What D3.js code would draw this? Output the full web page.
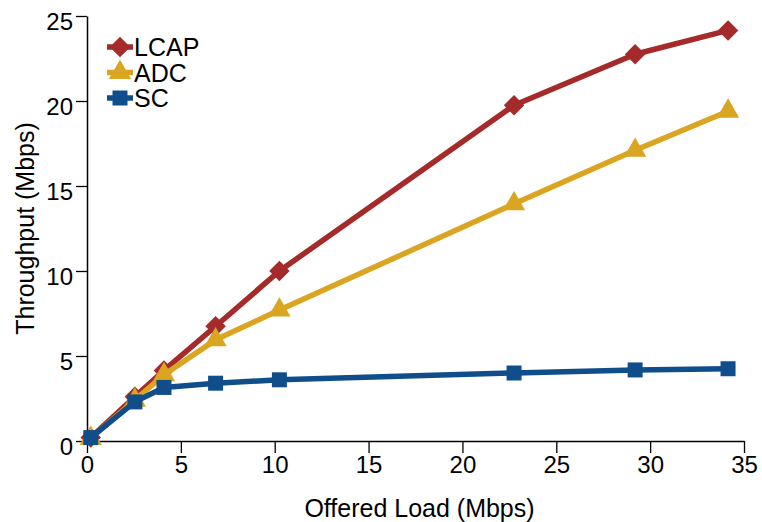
<!DOCTYPE html>
<html lang="en">
<head>
<meta charset="utf-8">
<title>Throughput vs Offered Load</title>
<script src="https://d3js.org/d3.v7.min.js"></script>
<style>
  body { margin: 0; background: #fff; }
  svg text { font-family: "Liberation Sans", Arial, Helvetica, sans-serif; fill: #000; }
</style>
</head>
<body>
<div id="chart"></div>
<script>
// data
var offeredLoad = [0.2, 2.55, 4.1, 6.85, 10.25, 22.75, 29.2, 34.15];
var lcap = [0.2, 2.6, 4.15, 6.75, 10.0, 19.75, 22.75, 24.15];
var adc  = [0.15, 2.4, 3.9, 5.95, 7.7, 13.95, 17.1, 19.4];
var sc   = [0.2, 2.3, 3.15, 3.4, 3.6, 4.0, 4.18, 4.25];
var seriesNames = ["LCAP", "ADC", "SC"];
var xTicks = [0, 5, 10, 15, 20, 25, 30, 35];
var yTicks = [0, 5, 10, 15, 20, 25];

var colors = { LCAP: "#a52a2a", ADC: "#daa520", SC: "#104e8b" };
var shapes = { LCAP: "diamond", ADC: "triangle", SC: "square" };
var values = { LCAP: lcap, ADC: adc, SC: sc };

var margin = {top: 16, right: 18, bottom: 81, left: 87},
    width = 762 - margin.left - margin.right,
    height = 522 - margin.top - margin.bottom;

var svg = d3.select("#chart")
  .append("svg")
    .attr("width", 762)
    .attr("height", 522)
  .append("g")
    .attr("transform", "translate(" + margin.left + "," + margin.top + ")");

var x = d3.scaleLinear().domain([0, 35]).range([0, width]);
var y = d3.scaleLinear().domain([0, 25]).range([height, 0]);

// axes
var xAxis = svg.append("g")
    .attr("transform", "translate(0," + height + ")")
    .call(d3.axisBottom(x).tickValues(xTicks).tickSize(12).tickPadding(3).tickSizeOuter(0));
var yAxis = svg.append("g")
    .call(d3.axisLeft(y).tickValues(yTicks).tickSize(11).tickPadding(3).tickSizeOuter(0));

[xAxis, yAxis].forEach(function(a) {
  a.select(".domain").attr("stroke-width", 1.5);
  a.selectAll(".tick line").attr("stroke-width", 1.3);
  a.selectAll(".tick text").style("font-size", "24px");
});
yAxis.selectAll(".tick text").attr("dy", "0.55em");

// axis titles
svg.append("text")
    .attr("x", width / 2 + 4)
    .attr("y", height + 76)
    .attr("text-anchor", "middle")
    .style("font-size", "25px")
    .text("Offered Load (Mbps)");
svg.append("text")
    .attr("transform", "translate(" + (-53) + "," + (height / 2) + ") rotate(-90)")
    .attr("text-anchor", "middle")
    .style("font-size", "25px")
    .text("Throughput (Mbps)");

// marker helper
function markerPath(kind) {
  if (kind === "diamond") return d3.symbol().type(d3.symbolSquare).size(210)();
  if (kind === "triangle") return d3.symbol().type(d3.symbolTriangle).size(215)();
  return d3.symbol().type(d3.symbolSquare).size(225)();
}
function markerTransform(kind, px, py) {
  return "translate(" + px + "," + py + ")" + (kind === "diamond" ? " rotate(45)" : "");
}

var line = d3.line()
    .x(function(d) { return x(d.x); })
    .y(function(d) { return y(d.y); });

seriesNames.forEach(function(name) {
  var pts = offeredLoad.map(function(v, i) { return {x: v, y: values[name][i]}; });
  var g = svg.append("g");
  g.append("path")
      .datum(pts)
      .attr("d", line)
      .attr("fill", "none")
      .attr("stroke", colors[name])
      .attr("stroke-width", 5.5)
      .attr("stroke-linejoin", "round");
  g.selectAll("path.mk")
      .data(pts)
      .enter()
      .append("path")
        .attr("class", "mk")
        .attr("d", markerPath(shapes[name]))
        .attr("transform", function(d) { return markerTransform(shapes[name], x(d.x), y(d.y)); })
        .attr("fill", colors[name]);
});

// legend
var legend = svg.append("g").attr("transform", "translate(" + (107 - margin.left) + "," + (47 - margin.top) + ")");
seriesNames.forEach(function(name, i) {
  var row = legend.append("g").attr("transform", "translate(0," + (i * 25.5) + ")");
  row.append("line")
      .attr("x1", 0).attr("x2", 26)
      .attr("stroke", colors[name])
      .attr("stroke-width", 5.5);
  row.append("path")
      .attr("d", markerPath(shapes[name]))
      .attr("transform", markerTransform(shapes[name], 13, 0))
      .attr("fill", colors[name]);
  row.append("text")
      .attr("x", 27)
      .attr("dy", "0.36em")
      .style("font-size", "25px")
      .text(name);
});
</script>
</body>
</html>
